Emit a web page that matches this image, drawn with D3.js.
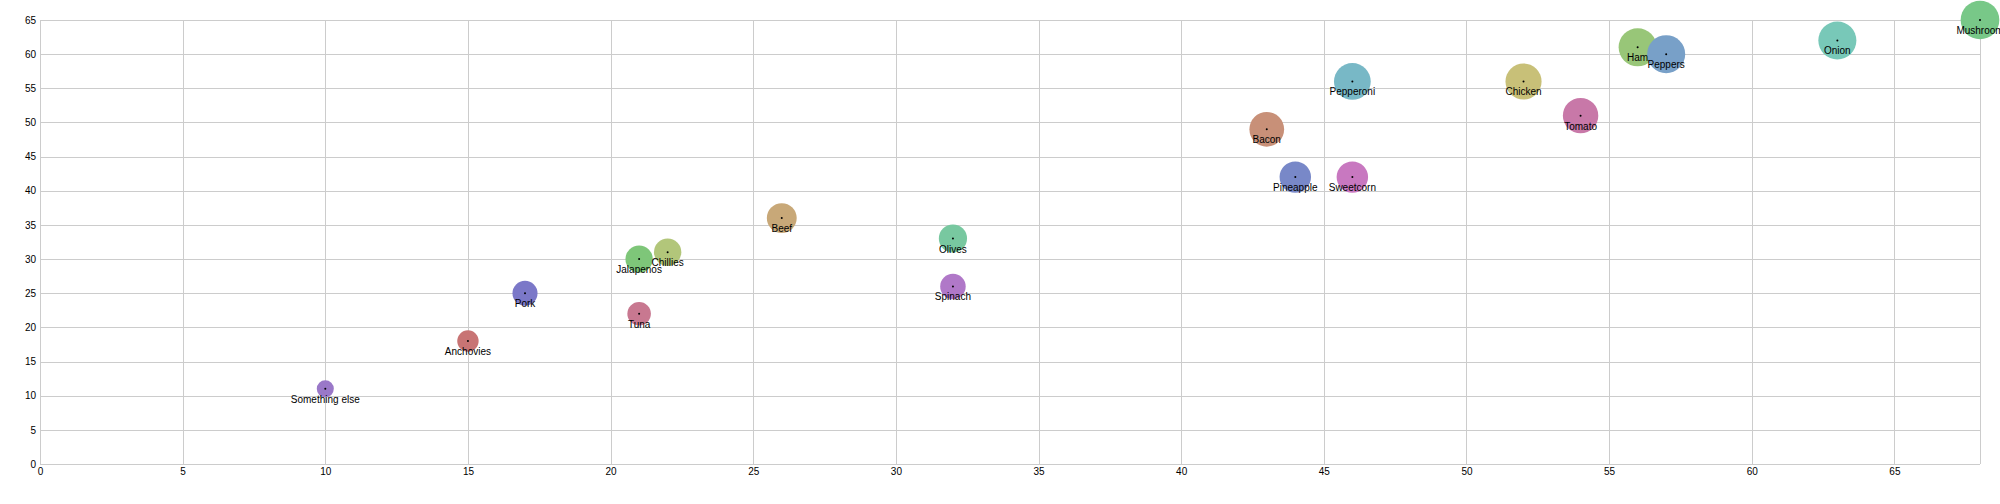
<!DOCTYPE html>
<html>
<head>
<meta charset="utf-8">
<script src="https://cdn.jsdelivr.net/npm/d3@7"></script>
<style>
  html, body { margin: 0; padding: 0; background: #fff; }
  svg { display: block; }
  text { font-family: "Liberation Sans", Arial, Helvetica, sans-serif; font-size: 10px; fill: #000; }
</style>
</head>
<body>
<svg id="chart" width="2000" height="504"></svg>
<script>
const names = ["Something else","Anchovies","Pork","Tuna","Jalapenos","Chillies","Beef","Olives","Spinach","Bacon","Pineapple","Sweetcorn","Pepperoni","Chicken","Tomato","Ham","Peppers","Onion","Mushroom"];
const xValues = [10,15,17,21,21,22,26,32,32,43,44,46,46,52,54,56,57,63,68];
const yValues = [11,18,25,22,30,31,36,33,26,49,42,42,56,56,51,61,60,62,65];
const sizeValues = [12,19,26,23,31,31,37,33,27,50,41,41,56,54,52,60,60,60,62];
const colors = ["#9a78c8","#c87474","#7b78c8","#c87890","#7ec679","#b2c67a","#c8a878","#78c8a0","#b078c8","#c89078","#7888c8","#c878c0","#78b8c6","#c8c078","#c878a8","#98c678","#78a0c8","#78c8b8","#78c888"];
const xTicks = [0,5,10,15,20,25,30,35,40,45,50,55,60,65];
const yTicks = [0,5,10,15,20,25,30,35,40,45,50,55,60,65];

const svg = d3.select("#chart");
const plotLeft = 40, plotRight = 1980, plotTop = 20, plotBottom = 464;

const x = d3.scaleLinear().domain([0, 68]).range([plotLeft, plotRight]);
const y = d3.scaleLinear().domain([0, 65]).range([plotBottom, plotTop]);
const r = d3.scaleSqrt().domain([0, 65]).range([0, 19.8]);

const grid = svg.append("g").attr("stroke", "#cccccc").attr("stroke-width", 1).attr("shape-rendering", "crispEdges");
grid.selectAll("line.v").data(xTicks.concat([68])).join("line")
  .attr("x1", d => Math.round(x(d)) + 0.5).attr("x2", d => Math.round(x(d)) + 0.5)
  .attr("y1", plotTop).attr("y2", plotBottom);
grid.selectAll("line.h").data(yTicks).join("line")
  .attr("y1", d => Math.round(y(d)) + 0.5).attr("y2", d => Math.round(y(d)) + 0.5)
  .attr("x1", plotLeft).attr("x2", plotRight);

const xAxis = svg.append("g").attr("transform", `translate(0,${plotBottom})`)
  .call(d3.axisBottom(x).tickValues(xTicks).tickSize(0).tickPadding(4));
const yAxis = svg.append("g").attr("transform", `translate(${plotLeft},0)`)
  .call(d3.axisLeft(y).tickValues(yTicks).tickSize(0).tickPadding(4));
[xAxis, yAxis].forEach(a => {
  a.select(".domain").remove();
  a.selectAll("text").attr("fill", "#000");
  a.attr("font-family", null).attr("font-size", null);
});

const data = names.map((n, i) => ({ name: n, x: xValues[i], y: yValues[i], s: sizeValues[i], c: colors[i] }));

svg.append("g").selectAll("circle").data(data).join("circle")
  .attr("cx", d => x(d.x)).attr("cy", d => y(d.y)).attr("r", d => r(d.s))
  .attr("fill", d => d.c);

svg.append("g").selectAll("circle").data(data).join("circle")
  .attr("cx", d => x(d.x)).attr("cy", d => y(d.y)).attr("r", 1)
  .attr("fill", "#000");

svg.append("g").selectAll("text").data(data).join("text")
  .attr("x", d => x(d.x)).attr("y", d => y(d.y) + 14)
  .attr("text-anchor", "middle")
  .text(d => d.name);
</script>
</body>
</html>
